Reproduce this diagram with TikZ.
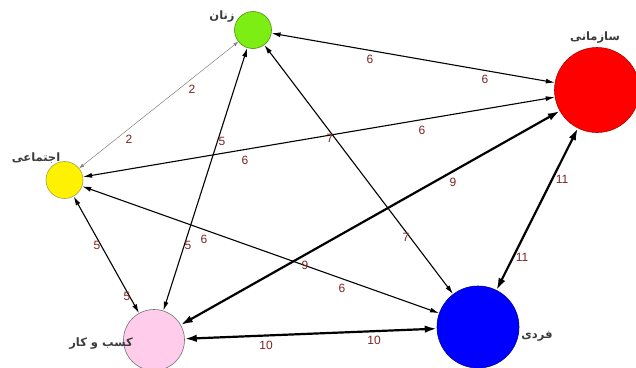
\documentclass[tikz,border=0pt]{standalone}
\usepackage{fontspec}
\setmainfont{Liberation Sans}
\newfontfamily\farsi[Script=Arabic]{DejaVu Sans}
\TeXXeTstate=1
\usetikzlibrary{arrows.meta}
\definecolor{wtred}{RGB}{125,35,35}
\definecolor{tagcol}{RGB}{60,60,60}
\definecolor{zgreen}{RGB}{125,238,20}
\definecolor{kpink}{RGB}{255,204,236}
\begin{document}
\begin{tikzpicture}[x=1pt,y=-1pt,
  actor/.style={draw, circle, inner sep=0pt, line width=.6pt},
  tag/.style={font=\farsi\bfseries\fontsize{11.5}{13}\selectfont, text=tagcol},
  wt/.style={font=\fontsize{12}{14}\selectfont, text=wtred},
  weak/.style={gray, line width=.5pt, {Latex[length=5pt,width=3.5pt]}-{Latex[length=5pt,width=3.5pt]}},
  mid/.style={line width=1.1pt, {Latex[length=9pt,width=5pt]}-{Latex[length=9pt,width=5pt]}},
  strong/.style={line width=2.2pt, {Latex[length=12pt,width=7.5pt]}-{Latex[length=12pt,width=7.5pt]}}]
\useasboundingbox (0,0) rectangle (636,367);
\node[actor, fill=zgreen, draw=zgreen!60!black, minimum size=37pt] (zanan) at (253,30) {};
\node[actor, fill=red, draw=red!70!black, minimum size=85pt] (sazmani) at (597,90) {};
\node[actor, fill=yellow, draw=yellow!60!black, minimum size=37pt] (ejtemai) at (64.5,180) {};
\node[actor, fill=kpink, draw=black!55, minimum size=61pt] (kasb) at (154,340) {};
\node[actor, fill=blue, draw=blue!60!black, minimum size=82pt] (fardi) at (478,327) {};
% names
\node[tag] (t1) at (222,17) {\beginR زنان\endR};
\node[tag] (t2) at (595,38) {\beginR سازمانی\endR};
\node[tag] (t3) at (36,158) {\beginR اجتماعی\endR};
\node[tag] (t4) at (101,344) {\beginR کسب و کار\endR};
\node[tag] (t5) at (537,336) {\beginR فردی\endR};
% links
\draw[weak] (zanan) -- (ejtemai);
\draw[mid] (zanan) -- (sazmani);
\draw[mid] (zanan) -- (kasb);
\draw[mid] (zanan) -- (fardi);
\draw[mid] (ejtemai) -- (sazmani);
\draw[mid] (ejtemai) -- (fardi);
\draw[mid] (ejtemai) -- (kasb);
\draw[strong] (kasb) -- (sazmani);
\draw[strong] (kasb) -- (fardi);
\draw[strong] (sazmani) -- (fardi);
% weights
\foreach \x/\y/\w [count=\i] in {370/59/6, 485/79/6, 192/89/2, 129/139/2, 222/141/5, 188/245/5,
  330/138/7, 406/237/7, 422/130/6, 245/160/6, 204/239/6, 342/288/6, 97/245/5, 127/296/5,
  453/182/9, 305/265/9, 266/345/10, 374/340/10, 562/179/11, 522/257/11}
  \node[wt] (w\i) at (\x,\y) {\w};
\end{tikzpicture}
\end{document}
